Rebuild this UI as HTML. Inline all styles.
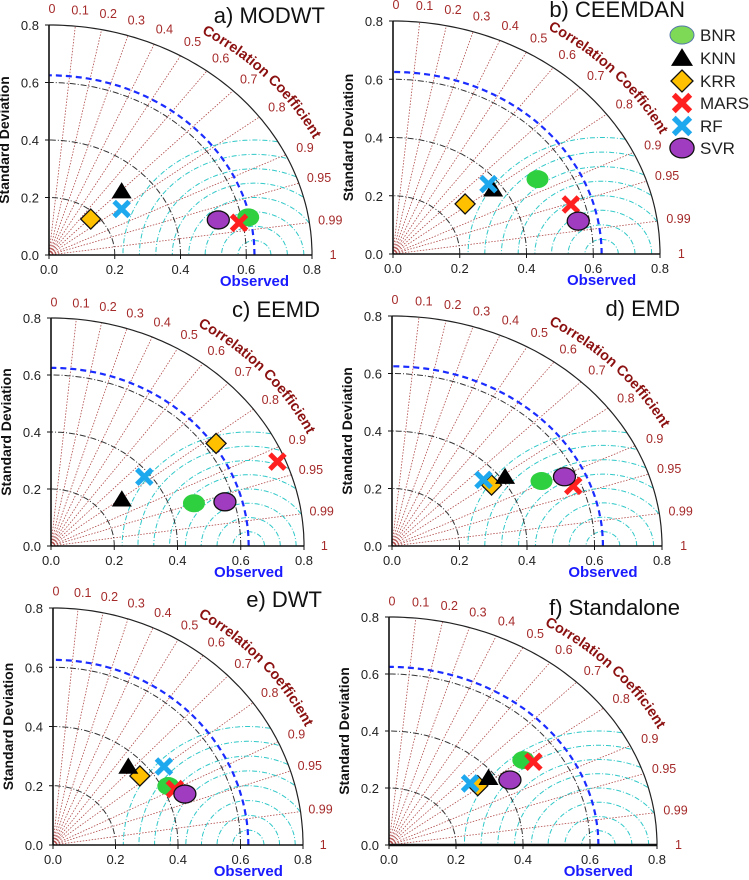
<!DOCTYPE html>
<html><head><meta charset="utf-8"><style>
html,body{margin:0;padding:0;background:#fff;}
svg{display:block;font-family:"Liberation Sans",sans-serif;}
</style></head><body>
<svg id="chart" width="749" height="880" viewBox="0 0 749 880"></svg>
<script>
// Models and data (x = std*corr, y = std*sqrt(1-corr^2))
const models = ["BNR","KNN","KRR","MARS","RF","SVR"];
const panelTitles = ["a) MODWT","b) CEEMDAN","c) EEMD","d) EMD","e) DWT","f) Standalone"];
const modwtX = [0.606,0.221,0.127,0.578,0.221,0.515];
const modwtY = [0.131,0.222,0.125,0.112,0.160,0.122];
const ceemdanX = [0.433,0.300,0.216,0.533,0.286,0.555];
const ceemdanY = [0.257,0.222,0.172,0.170,0.240,0.113];
const eemdX = [0.452,0.224,0.522,0.716,0.295,0.550];
const eemdY = [0.150,0.164,0.360,0.296,0.243,0.155];
const emdX = [0.443,0.335,0.295,0.537,0.271,0.511];
const emdY = [0.226,0.241,0.212,0.209,0.230,0.241];
const dwtX = [0.369,0.241,0.278,0.390,0.355,0.422];
const dwtY = [0.199,0.265,0.233,0.189,0.265,0.172];
const standX = [0.401,0.297,0.265,0.431,0.242,0.361];
const standY = [0.298,0.236,0.208,0.292,0.216,0.228];
const corrTicks = [0,0.1,0.2,0.3,0.4,0.5,0.6,0.7,0.8,0.9,0.95,0.99,1];
const corrLines = [0.1,0.2,0.3,0.4,0.5,0.6,0.7,0.8,0.9,0.95,0.99];
const axisTicks = [0,0.2,0.4,0.6,0.8];
const stdArcs = [0.2,0.4,0.6];
const rmsArcs = [0.05,0.1,0.15,0.2,0.25,0.3,0.35,0.4];
const obsStd = 0.625;

const allX=[modwtX,ceemdanX,eemdX,emdX,dwtX,standX];
const allY=[modwtY,ceemdanY,eemdY,emdY,dwtY,standY];
const geom=[
 {ox:49,oy:255,x8:312,t8:25,tx:325,ty:23},
 {ox:393,oy:254,x8:660,t8:21,tx:685,ty:17},
 {ox:51,oy:546,x8:304,t8:318,tx:320,ty:317},
 {ox:392,oy:546,x8:662,t8:316,tx:680,ty:316},
 {ox:53,oy:845,x8:303,t8:608,tx:322,ty:607},
 {ox:389,oy:845,x8:657,t8:617,tx:680,ty:615}
];
const colors={BNR:"#2fd040",KNN:"#000",KRR:"#ffc000",MARS:"#ff2020",RF:"#1ea8ee",SVR:"#a03cc0"};
const NS="http://www.w3.org/2000/svg";
const svg=document.getElementById('chart');
function mk(tag,attrs,parent){const e=document.createElementNS(NS,tag);for(const k in attrs)e.setAttribute(k,attrs[k]);(parent||svg).appendChild(e);return e;}

function marker(g,m,cx,cy,s){
  let el;
  if(m==="BNR"){el=mk('ellipse',{cx,cy,rx:11*s,ry:9*s,fill:colors.BNR},g);}
  else if(m==="SVR"){el=mk('ellipse',{cx,cy,rx:11*s,ry:9*s,fill:colors.SVR,stroke:'#111','stroke-width':1.3},g);}
  else if(m==="KNN"){const h=9*s;el=mk('polygon',{points:`${cx},${cy-h} ${cx+10*s},${cy+h*0.8} ${cx-10*s},${cy+h*0.8}`,fill:'#000'},g);}
  else if(m==="KRR"){const h=10*s;el=mk('polygon',{points:`${cx},${cy-h} ${cx+h},${cy} ${cx},${cy+h} ${cx-h},${cy}`,fill:colors.KRR,stroke:'#111','stroke-width':1.3},g);}
  else {const h=7.5*s;el=mk('path',{d:`M${cx-h},${cy-h}L${cx+h},${cy+h}M${cx-h},${cy+h}L${cx+h},${cy-h}`,stroke:colors[m],'stroke-width':5*s,fill:'none'},g);}
  return el;
}

geom.forEach((G,pi)=>{
  const sx=(G.x8-G.ox)/0.8, sy=(G.oy-G.t8)/0.8;
  const X=v=>G.ox+v*sx, Y=v=>G.oy-v*sy;
  const g=mk('g',{});
  
  
  corrLines.forEach(c=>{
    const s=Math.sqrt(1-c*c);
    const l=mk('line',{x1:X(0),y1:Y(0),x2:X(0.8*c),y2:Y(0.8*s),stroke:'#b04848','stroke-width':0.8,'stroke-dasharray':'1.5,1.5'},g);
    
    
  });
  rmsArcs.forEach(r=>{
    let pts=[];
    for(let i=0;i<=180;i++){const a=Math.PI*i/180;const x=obsStd+r*Math.cos(a),y=r*Math.sin(a);if(Math.hypot(x,y)<=0.8)pts.push(X(x).toFixed(1)+','+Y(y).toFixed(1));}
    const p=mk('polyline',{points:pts.join(' '),fill:'none',stroke:'#30c8c8','stroke-width':1,'stroke-dasharray':'5,2,1,2'},g);
    
    
  });
  function arc(r,attrs,name){
    let pts=[];for(let i=0;i<=90;i++){const a=Math.PI/2*i/90;pts.push(X(r*Math.cos(a)).toFixed(1)+','+Y(r*Math.sin(a)).toFixed(1));}
    const p=mk('polyline',Object.assign({points:pts.join(' '),fill:'none'},attrs),g);
    
    
  }
  stdArcs.forEach(r=>arc(r,{stroke:'#333','stroke-width':1,'stroke-dasharray':'6,2,1,2'},'std-arc'));
  arc(obsStd,{stroke:'#1a2cff','stroke-width':2.2,'stroke-dasharray':'6,4'},'observed-arc');
  arc(0.8,{stroke:'#222','stroke-width':1.2},'outer-arc');
  const ax=mk('line',{x1:X(0),y1:Y(0),x2:X(0),y2:Y(0.8),stroke:'#111','stroke-width':1.6},g);
  
  const bx=mk('line',{x1:X(0),y1:Y(0),x2:X(0.8),y2:Y(0),stroke:'#111','stroke-width':pi===5?2.6:1.6},g);
  
  axisTicks.forEach(t=>{
    mk('line',{x1:X(t),y1:Y(0),x2:X(t),y2:Y(0)+4,stroke:'#111','stroke-width':1},g);
    mk('line',{x1:X(0)-4,y1:Y(t),x2:X(0),y2:Y(t),stroke:'#111','stroke-width':1},g);
    const tl=mk('text',{x:X(t),y:Y(0)+19,'font-size':13,'text-anchor':'middle',fill:'#222'},g);tl.textContent=t.toFixed(1);
    
    const yl=mk('text',{x:X(0)-10,y:Y(t)+5,'font-size':13,'text-anchor':'end',fill:'#222'},g);yl.textContent=t.toFixed(1);
    
  });
  corrTicks.forEach(c=>{
    const s=Math.sqrt(1-c*c);
    const t=mk('text',{x:X(0.855*c)+3,y:Y(0.855*s)+4,'font-size':12.5,'text-anchor':'middle',fill:'#a52a2a'},g);
    t.textContent=String(c);
    
  });
  const pid='cc'+pi;let d='';
  for(let i=0;i<=40;i++){const a=(59-34*i/40)*Math.PI/180;d+=(i?'L':'M')+X(0.9*Math.cos(a)).toFixed(1)+','+Y(0.9*Math.sin(a)).toFixed(1);}
  mk('path',{id:pid,d,fill:'none',stroke:'none'},g);
  const ct=mk('text',{'font-size':14.5,'font-weight':'bold',fill:'#8b1010'},g);
  
  const tp=mk('textPath',{href:'#'+pid},ct);tp.textContent='Correlation Coefficient';
  const yt=mk('text',{x:G.ox-40,y:(G.oy+G.t8)/2,'font-size':14,'font-weight':'bold','text-anchor':'middle',fill:'#111',transform:`rotate(-90 ${G.ox-40} ${(G.oy+G.t8)/2})`},g);
  yt.textContent='Standard Deviation';
  const ot=mk('text',{x:X(0.625),y:G.oy+31,'font-size':15,'font-weight':'bold','text-anchor':'middle',fill:'#1a1aff'},g);
  ot.textContent='Observed';
  const tt=mk('text',{x:G.tx,y:G.ty,'font-size':22,'text-anchor':'end',fill:'#111'},g);
  tt.textContent=panelTitles[pi];
  const order=["KRR","KNN","RF","BNR","MARS","SVR"];
  order.forEach(m=>{
    const i=models.indexOf(m);
    const el=marker(g,m,X(allX[pi][i]),Y(allY[pi][i]),1);
    
    
  });
});
const lg=mk('g',{});


const legY=[35,58,81,103,126,148];
models.forEach((m,i)=>{
  let el;
  if(m==="BNR"){el=mk('ellipse',{cx:682,cy:legY[i],rx:12,ry:9,fill:'#7ed957',stroke:'#5577aa','stroke-width':1},lg);}
  else el=marker(lg,m,682,legY[i],1.1);
  
  
  const t=mk('text',{x:700,y:legY[i]+6,'font-size':17,fill:'#222'},lg);t.textContent=m;
  
  
});
</script>
</body></html>
